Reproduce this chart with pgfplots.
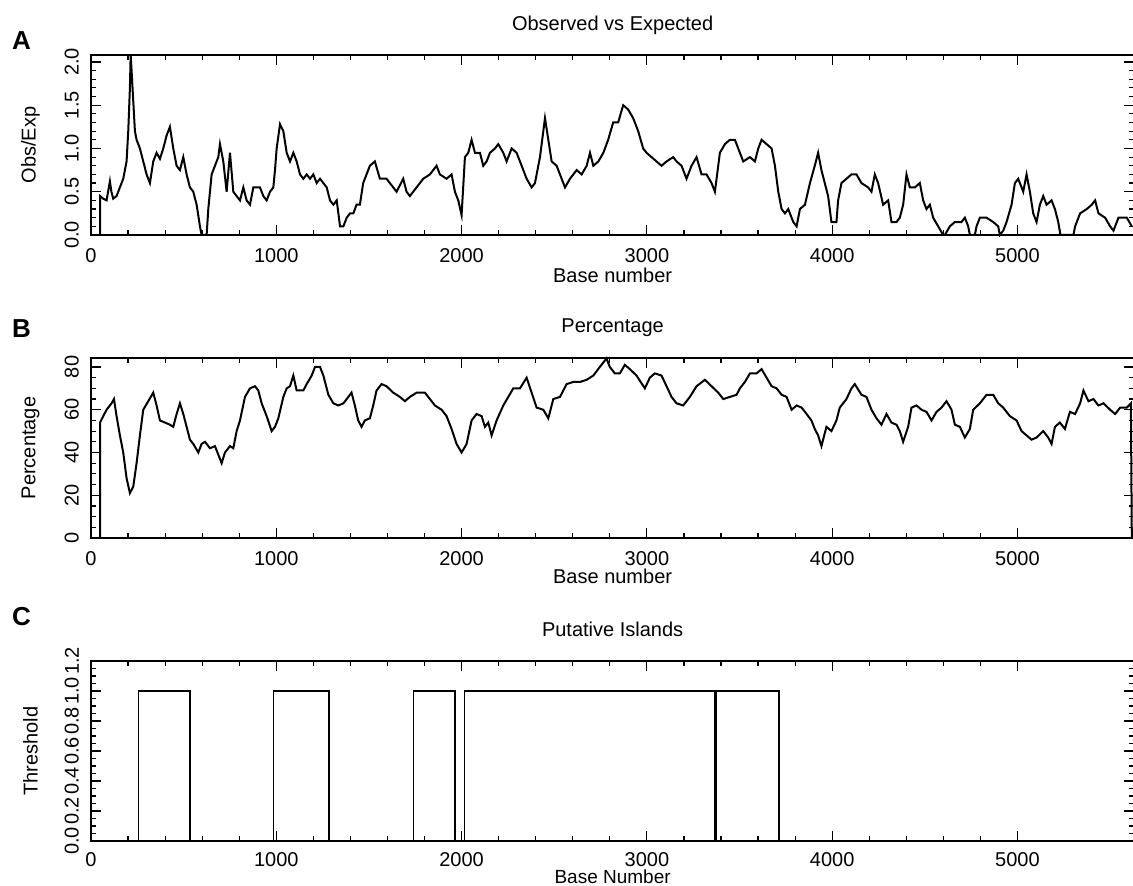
\documentclass[border=0pt]{standalone}
\usepackage{fontspec}
\setmainfont{Liberation Sans}
\usepackage{pgfplots}
\pgfplotsset{compat=1.18}

\pgfplotsset{
  panel/.style={
    scale only axis, width=521.6pt, height=90pt,
    xmin=0, xmax=5630,
    xtick={0,1000,...,5000}, minor x tick num=4,
    tick align=inside,
    major tick length=5pt, minor tick length=2.5pt,
    axis line style={line width=0.75pt},
    every tick/.style={black, line width=0.6pt},
    tick label style={font=\fontsize{10}{12}\selectfont},
    label style={font=\fontsize{10}{12}\selectfont},
    every axis title shift=0pt,
    title style={font=\fontsize{10}{12}\selectfont, at={(axis description cs:0.5,1.167)}, anchor=center},
    /pgf/number format/assume math mode=true,
    x tick label style={/pgf/number format/1000 sep={}},
    xticklabel shift=3pt,
    y tick label style={rotate=90, anchor=south},
    yticklabel shift=2.5pt,
    ylabel style={at={(axis description cs:-0.058,0.5)}, anchor=center},
    clip=false,
  },
}
\tikzset{letter/.style={font=\fontsize{13}{15}\selectfont\bfseries, anchor=center}}

\begin{document}
\begin{tikzpicture}
\useasboundingbox (0,0) rectangle (566.5pt,442.5pt);

% A: observed / expected CpG ratio
\begin{axis}[panel, at={(45.5pt,325pt)}, anchor=south west,
    ymin=0, ymax=2.08, ytick={0,0.5,1,1.5,2}, minor y tick num=4,
    y tick label style={/pgf/number format/.cd, fixed, fixed zerofill, precision=1},
    title={Observed vs Expected}, xlabel={Base number}, ylabel={Obs/Exp},
    xlabel style={at={(axis description cs:0.5,-0.222)}, anchor=center}]
\addplot[black, line width=1pt] coordinates {
(49,0)(49,0.45)(66,0.42)(84,0.40)(102,0.62)(110,0.5)(120,0.42)(138,0.45)(156,0.55)(174,0.65)
(192,0.85)(201,1.2)(210,1.7)(214,2.08)(219,1.9)(228,1.55)(237,1.2)(246,1.1)(264,1.0)(282,0.85)
(300,0.7)(318,0.6)(336,0.85)(354,0.95)(372,0.88)(390,1.0)(408,1.15)(426,1.25)(444,1.0)(462,0.8)
(480,0.75)(498,0.9)(516,0.7)(534,0.55)(552,0.5)(570,0.35)(588,0.1)(597,0)(624,0)(633,0.3)
(651,0.7)(669,0.8)(687,0.9)(696,1.05)(714,0.85)(732,0.5)(750,0.95)(768,0.5)(786,0.45)(804,0.4)
(822,0.55)(840,0.4)(858,0.35)(876,0.55)(894,0.55)(912,0.55)(930,0.45)(948,0.4)(966,0.5)(984,0.55)
(993,0.75)(1002,1.0)(1020,1.28)(1038,1.2)(1056,0.95)(1074,0.85)(1092,0.95)(1110,0.85)(1128,0.7)
(1146,0.65)(1164,0.7)(1182,0.65)(1200,0.7)(1218,0.6)(1236,0.65)(1254,0.6)(1272,0.55)(1290,0.4)
(1308,0.35)(1326,0.4)(1344,0.1)(1362,0.1)(1380,0.2)(1398,0.25)(1416,0.25)(1433,0.35)(1451,0.35)
(1469,0.6)(1487,0.7)(1505,0.8)(1532,0.85)(1559,0.65)(1595,0.65)(1631,0.55)(1649,0.5)(1685,0.65)
(1703,0.5)(1721,0.45)(1739,0.5)(1757,0.55)(1793,0.65)(1829,0.7)(1865,0.8)(1883,0.7)(1919,0.65)
(1946,0.7)(1964,0.5)(1982,0.4)(2000,0.23)(2018,0.9)(2036,0.95)(2054,1.1)(2072,0.95)(2099,0.95)
(2117,0.8)(2135,0.85)(2153,0.95)(2180,1.0)(2198,1.05)(2225,0.95)(2243,0.85)(2270,1.0)(2297,0.95)
(2315,0.85)(2351,0.65)(2378,0.55)(2396,0.6)(2423,0.9)(2450,1.35)(2468,1.1)(2486,0.85)(2513,0.8)
(2540,0.65)(2558,0.55)(2585,0.65)(2621,0.75)(2648,0.7)(2675,0.8)(2693,0.95)(2711,0.8)(2738,0.85)
(2765,0.95)(2791,1.1)(2818,1.3)(2845,1.3)(2872,1.5)(2899,1.45)(2926,1.35)(2953,1.2)(2980,1.0)
(2998,0.95)(3025,0.9)(3052,0.85)(3079,0.8)(3106,0.85)(3142,0.9)(3160,0.85)(3187,0.8)(3214,0.65)
(3241,0.8)(3268,0.9)(3295,0.7)(3322,0.7)(3349,0.6)(3367,0.5)(3394,0.95)(3421,1.05)(3448,1.1)
(3475,1.1)(3502,0.95)(3520,0.85)(3556,0.9)(3583,0.85)(3601,1.0)(3619,1.1)(3646,1.05)(3673,1.0)
(3691,0.8)(3709,0.5)(3727,0.3)(3745,0.25)(3763,0.3)(3790,0.15)(3808,0.1)(3826,0.3)(3853,0.35)
(3880,0.6)(3906,0.8)(3924,0.95)(3942,0.75)(3960,0.6)(3978,0.45)(3996,0.15)(4023,0.15)(4032,0.4)
(4050,0.6)(4077,0.65)(4104,0.7)(4131,0.7)(4158,0.6)(4194,0.55)(4212,0.5)(4230,0.7)(4248,0.6)
(4275,0.35)(4302,0.4)(4320,0.15)(4347,0.15)(4365,0.2)(4383,0.35)(4401,0.7)(4419,0.55)(4446,0.55)
(4473,0.6)(4491,0.4)(4509,0.3)(4527,0.35)(4545,0.2)(4572,0.1)(4599,0)(4608,0)(4635,0.1)
(4662,0.15)(4698,0.15)(4716,0.2)(4734,0.1)(4743,0)(4770,0)(4779,0.1)(4797,0.2)(4833,0.2)
(4869,0.15)(4896,0.1)(4905,0)(4923,0.05)(4941,0.15)(4968,0.35)(4986,0.6)(5004,0.65)(5031,0.5)
(5049,0.7)(5067,0.5)(5085,0.25)(5103,0.15)(5121,0.35)(5139,0.45)(5157,0.35)(5184,0.4)(5202,0.3)
(5220,0.15)(5232,0)(5302,0)(5311,0.1)(5338,0.25)(5374,0.3)(5401,0.35)(5419,0.4)(5437,0.25)
(5473,0.2)(5500,0.1)(5518,0.05)(5545,0.2)(5590,0.2)(5617,0.1)
};
\node[letter] at (rel axis cs:-0.0667,1.08) {A};
\end{axis}

% B: GC percentage
\begin{axis}[panel, at={(45.5pt,173.5pt)}, anchor=south west,
    ymin=0, ymax=84.2, ytick={0,20,40,60,80}, minor y tick num=3,
    title={Percentage}, xlabel={Base number}, ylabel={Percentage},
    xlabel style={at={(axis description cs:0.5,-0.215)}, anchor=center}]
\addplot[black, line width=1pt] coordinates {
(49,0)(49,54)(66,57)(84,60)(111,63)(124,65)(138,57)(156,48)(174,40)(192,28)(210,21)(228,24)
(246,35)(264,48)(282,60)(309,64)(336,68)(354,62)(372,55)(399,54)(426,53)(444,52)(462,58)(480,63)
(498,58)(516,52)(534,46)(552,44)(579,40)(597,44)(615,45)(642,42)(669,43)(687,39)(705,35)(723,40)
(750,43)(768,42)(786,50)(804,55)(831,66)(858,70)(885,71)(903,69)(921,63)(948,57)(975,50)(993,52)
(1011,56)(1038,66)(1056,70)(1074,71)(1092,76)(1110,69)(1128,69)(1146,69)(1164,72)(1191,76)
(1209,80)(1236,80)(1254,76)(1281,67)(1308,63)(1335,62)(1362,63)(1389,66)(1406,68)(1424,62)
(1442,55)(1460,52)(1478,55)(1505,56)(1523,62)(1541,69)(1568,72)(1595,71)(1631,68)(1667,66)
(1694,64)(1721,66)(1757,68)(1802,68)(1829,65)(1856,62)(1892,60)(1919,57)(1946,51)(1973,44)
(2000,40)(2027,44)(2054,55)(2081,58)(2108,57)(2126,52)(2144,54)(2162,48)(2189,55)(2225,62)
(2252,66)(2279,70)(2315,70)(2351,75)(2378,68)(2405,61)(2441,60)(2468,56)(2495,65)(2531,66)
(2567,72)(2603,73)(2639,73)(2675,74)(2711,76)(2746,80)(2782,84)(2800,80)(2827,77)(2854,77)
(2881,81)(2908,79)(2944,76)(2989,70)(3016,75)(3043,77)(3079,76)(3106,71)(3133,66)(3160,63)
(3196,62)(3232,66)(3268,71)(3313,74)(3349,71)(3385,68)(3412,65)(3448,66)(3484,67)(3502,70)
(3529,73)(3556,77)(3592,77)(3619,79)(3646,75)(3673,71)(3700,70)(3727,67)(3754,66)(3781,60)
(3808,62)(3835,61)(3862,58)(3888,55)(3906,51)(3924,48)(3942,43)(3969,52)(3996,50)(4023,55)
(4041,61)(4077,65)(4104,70)(4122,72)(4158,67)(4185,66)(4212,60)(4239,56)(4266,53)(4293,58)
(4320,54)(4347,53)(4365,50)(4383,45)(4410,52)(4428,61)(4455,62)(4482,60)(4509,59)(4536,55)
(4563,59)(4590,61)(4617,64)(4644,60)(4662,53)(4689,52)(4716,47)(4743,51)(4761,60)(4797,63)
(4833,67)(4869,67)(4896,63)(4923,61)(4959,57)(4995,55)(5022,50)(5049,48)(5076,46)(5103,47)
(5139,50)(5166,47)(5184,44)(5202,52)(5229,54)(5256,51)(5283,59)(5311,58)(5338,63)(5356,69)
(5383,64)(5410,65)(5437,62)(5464,63)(5500,60)(5527,58)(5554,61)(5590,61)(5612,63)(5617,0)
};
\node[letter] at (rel axis cs:-0.0667,1.165) {B};
\end{axis}

% C: putative islands
\begin{axis}[panel, at={(45.5pt,22pt)}, anchor=south west,
    ymin=0, ymax=1.2, ytick={0,0.2,0.4,0.6,0.8,1.0,1.2}, minor y tick num=3,
    y tick label style={/pgf/number format/.cd, fixed, fixed zerofill, precision=1},
    xticklabel shift=2pt,
    title={Putative Islands}, xlabel={Base Number}, ylabel={Threshold},
    title style={at={(axis description cs:0.5,1.178)}},
    xlabel style={at={(axis description cs:0.5,-0.198)}, anchor=center,
      font=\fontsize{9.5}{11}\selectfont}]
\addplot[black, line width=0.7pt] coordinates {
(255,0)(255,1)(535,1)(535,0)(985,0)(985,1)(1285,1)(1285,0)(1740,0)(1740,1)(1965,1)(1965,0)
(2015,0)(2015,1)(3365,1)(3365,0)(3372,0)(3372,1)(3713,1)(3713,0)
};
\node[letter] at (rel axis cs:-0.0667,1.248) {C};
\end{axis}
\end{tikzpicture}
\end{document}
